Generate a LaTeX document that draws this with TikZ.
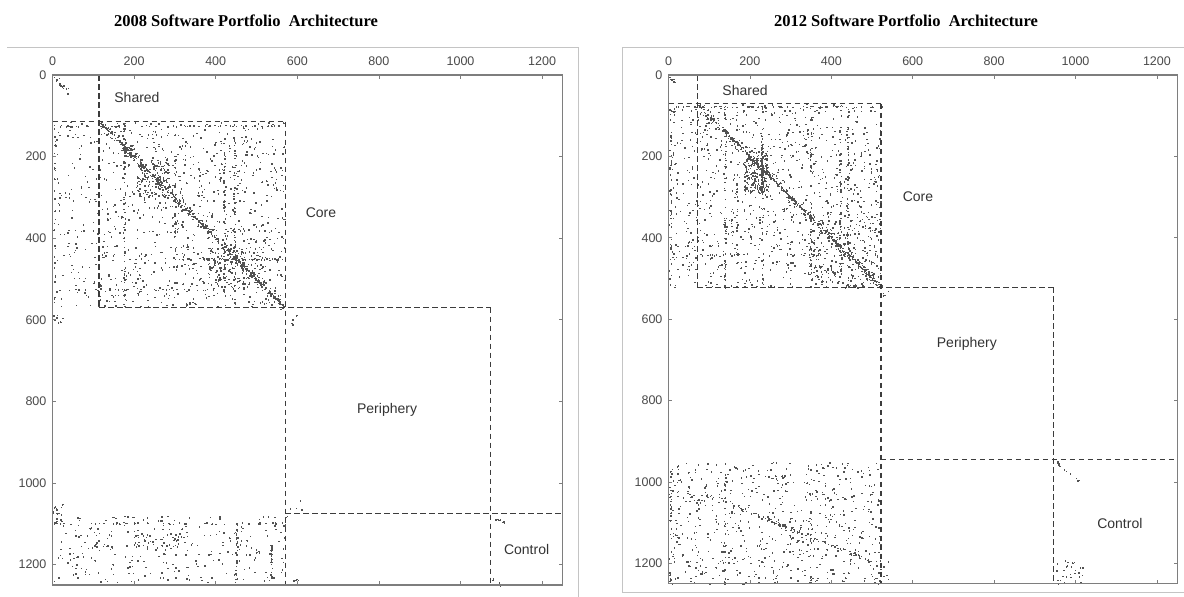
\documentclass[tikz,border=0pt]{standalone}
\usepackage{fontspec}
\setmainfont{Liberation Serif}
\setsansfont{Liberation Sans}
\usetikzlibrary{positioning}
\definecolor{framegray}{HTML}{C4C4C4}
\definecolor{axisgray}{HTML}{7E7E7E}
\definecolor{ticktext}{HTML}{4A4A4A}
\definecolor{dashgray}{HTML}{3C3C3C}
\tikzset{
  plotframe/.style={draw=framegray,line width=0.9pt},
  axisbox/.style={draw=axisgray,line width=1.1pt},
  tickmark/.style={draw=axisgray,line width=0.8pt},
  blockline/.style={draw=dashgray,line width=1.1pt,dash pattern=on 5.5pt off 3.5pt},
  ticklabel/.style={font=\sffamily\fontsize{12.5}{12.5}\selectfont,text=ticktext,inner sep=1pt},
  blocklabel/.style={font=\sffamily\fontsize{14}{14}\selectfont,text=black!80,inner sep=1pt},
  plottitle/.style={font=\bfseries\fontsize{16.5}{16.5}\selectfont,inner sep=1pt},
  dsmdot/.style={fill=black!68}
}
\newcommand{\dsmbox}[5]{%
  \foreach \k in {1,...,#1}{%
    \pgfmathsetmacro{\dsmx}{#2+(#3-#2)*rnd}%
    \pgfmathsetmacro{\dsmy}{#4+(#5-#4)*rnd}%
    \fill[dsmdot] (\dsmx,\dsmy) rectangle ++(3.5,3.5);
  }}
\newcommand{\dsmline}[6]{%
  \foreach \k in {1,...,#1}{%
    \pgfmathsetmacro{\dsmt}{rnd}%
    \pgfmathsetmacro{\dsmx}{#2+(#4-#2)*\dsmt+#6*rand}%
    \pgfmathsetmacro{\dsmy}{#3+(#5-#3)*\dsmt+#6*rand}%
    \fill[dsmdot] (\dsmx,\dsmy) rectangle ++(3.5,3.5);
  }}
\newcommand{\dsmcol}[4]{\dsmline{#1}{#2}{#3}{#2}{#4}{2}}
\newcommand{\dsmrow}[4]{\dsmline{#1}{#3}{#2}{#4}{#2}{2}}
\newcommand{\dsmaxes}{%
  \foreach \v in {0,200,...,1200}{
    \draw[tickmark] (\v,0) -- (\v,9);
    \draw[tickmark] (\v,1250) -- (\v,1241);
    \draw[tickmark] (0,\v) -- (9,\v);
    \draw[tickmark] (1250,\v) -- (1241,\v);
    \node[ticklabel,anchor=south] (tx\v) at (\v,-20) {\v};
    \node[ticklabel,anchor=east] (ty\v) at (-12,\v) {\v};
  }
  \draw[axisbox] (0,0) rectangle (1250,1250);
}

\begin{document}
\begin{tikzpicture}[x=1pt,y=-1pt]
  \useasboundingbox (0,0) rectangle (1184,597);
  \fill[white] (0,0) rectangle (1184,597);

  \node[plottitle] (title08) at (246,21) {2008 Software Portfolio\ \ Architecture};
  \node[plottitle] (title12) at (906,21) {2012 Software Portfolio\ \ Architecture};

  \draw[plotframe] (7,47) -- (578,47) -- (578,597);
  \draw[plotframe] (1184,47) -- (622,47) -- (622,592) -- (1184,592);

  \begin{scope}[shift={(52.5,75)},x=0.408pt,y=-0.408pt]
    \pgfmathsetseed{2008}
    \dsmline{14}{2}{2}{40}{40}{6}
    \dsmbox{650}{0}{570}{114}{570}
    \dsmbox{300}{114}{570}{114}{570}
    \dsmline{260}{114}{114}{570}{570}{9}
    \dsmline{180}{114}{114}{570}{570}{2}
    \dsmbox{110}{205}{285}{205}{300}
    \dsmbox{40}{170}{200}{170}{200}
    \dsmbox{130}{380}{520}{420}{520}
    \dsmcol{55}{175}{114}{570}
    \dsmcol{70}{420}{150}{540}
    \dsmcol{50}{445}{120}{560}
    \dsmcol{30}{4}{114}{600}
    \dsmcol{30}{300}{180}{520}
    \dsmrow{50}{124}{0}{570}
    \dsmrow{50}{450}{300}{570}
    \dsmrow{30}{525}{0}{400}
    \dsmbox{6}{0}{30}{575}{620}
    \dsmbox{6}{575}{605}{578}{620}
    \dsmbox{6}{575}{610}{1040}{1085}
    \dsmbox{5}{575}{605}{1232}{1250}
    \dsmbox{300}{0}{575}{1080}{1250}
    \dsmrow{45}{1098}{0}{570}
    \dsmbox{20}{0}{30}{1050}{1100}
    \dsmcol{25}{450}{1100}{1240}
    \dsmcol{25}{535}{1150}{1230}
    \dsmbox{30}{200}{330}{1120}{1160}
    \dsmline{8}{1075}{1075}{1110}{1100}{4}
    \dsmline{6}{1075}{1232}{1100}{1250}{3}
    \draw[blockline] (114,0) -- (114,570);
    \draw[blockline] (0,114) -- (570,114);
    \draw[blockline] (570,114) -- (570,1250);
    \draw[blockline] (114,570) -- (1074,570);
    \draw[blockline] (1074,570) -- (1074,1250);
    \draw[blockline] (570,1074) -- (1250,1074);
    \dsmaxes
    \node[blocklabel] (shared08) at (207,54) {Shared};
    \node[blocklabel] (core08) at (658,338) {Core};
    \node[blocklabel] (periphery08) at (820,821) {Periphery};
    \node[blocklabel] (control08) at (1162,1162) {Control};
  \end{scope}

  \begin{scope}[shift={(668.5,75)},x=0.407pt,y=-0.407pt]
    \pgfmathsetseed{2012}
    \dsmbox{6}{0}{15}{0}{40}
    \dsmbox{950}{0}{522}{71}{522}
    \dsmline{260}{71}{71}{522}{522}{9}
    \dsmline{180}{71}{71}{522}{522}{2}
    \dsmbox{190}{185}{245}{185}{290}
    \dsmcol{70}{228}{170}{290}
    \dsmcol{50}{138}{71}{522}
    \dsmcol{35}{167}{71}{522}
    \dsmcol{40}{230}{71}{522}
    \dsmcol{50}{348}{71}{522}
    \dsmcol{40}{421}{71}{522}
    \dsmcol{35}{440}{71}{522}
    \dsmcol{40}{4}{71}{522}
    \dsmbox{200}{345}{522}{345}{522}
    \dsmrow{60}{77}{0}{522}
    \dsmrow{30}{440}{0}{522}
    \dsmbox{4}{525}{540}{530}{560}
    \dsmbox{650}{0}{522}{950}{1250}
    \dsmline{110}{80}{1025}{500}{1195}{4}
    \dsmcol{30}{4}{950}{1250}
    \dsmcol{25}{138}{950}{1250}
    \dsmcol{25}{348}{950}{1250}
    \dsmbox{18}{495}{540}{1190}{1250}
    \dsmline{14}{950}{950}{1010}{1000}{5}
    \dsmbox{30}{950}{1020}{1190}{1250}
    \draw[blockline] (71,0) -- (71,522);
    \draw[blockline] (0,71) -- (522,71);
    \draw[blockline] (522,71) -- (522,1250);
    \draw[blockline] (71,522) -- (945,522);
    \draw[blockline] (945,522) -- (945,1250);
    \draw[blockline] (522,945) -- (1250,945);
    \dsmaxes
    \node[blocklabel] (shared12) at (188,37) {Shared};
    \node[blocklabel] (core12) at (613,300) {Core};
    \node[blocklabel] (periphery12) at (733,661) {Periphery};
    \node[blocklabel] (control12) at (1109,1103) {Control};
  \end{scope}
\end{tikzpicture}
\end{document}
